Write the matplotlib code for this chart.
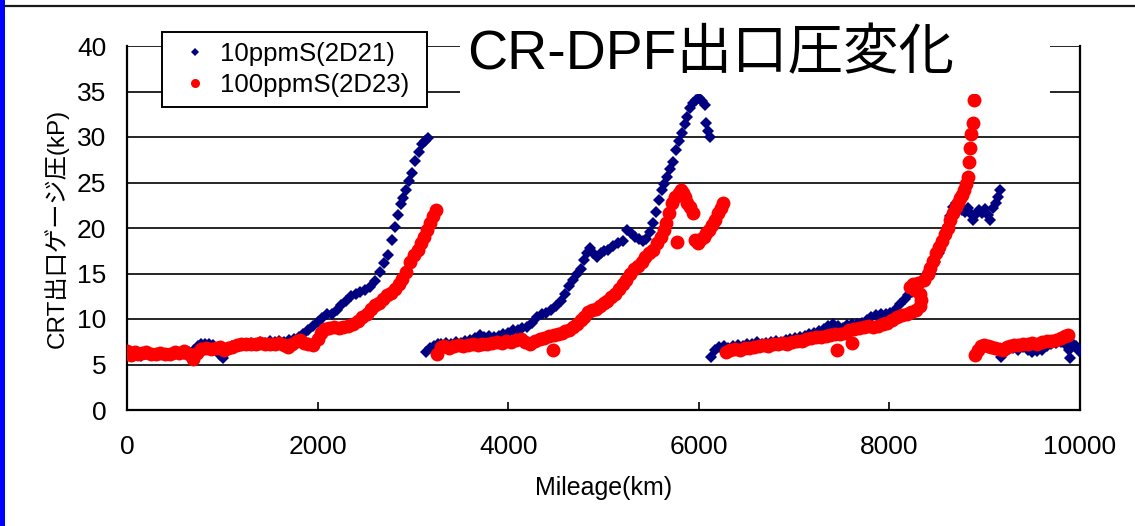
import numpy as np
import matplotlib
matplotlib.use('Agg')
import matplotlib.pyplot as plt
from matplotlib.patches import Rectangle
from matplotlib.lines import Line2D

# --- CRT outlet gauge pressure (kP) against mileage (km) ---
# 10ppmS fuel, vehicle 2D21: one list pair per regeneration cycle
blue_km_1 = [0, 50, 100, 150, 200, 250, 300, 350, 400, 450,
             500, 550, 600, 650, 700, 740, 780, 820, 860, 900,
             940, 980, 1010, 1050, 1100, 1150, 1200, 1250, 1300, 1350,
             1400, 1450, 1500, 1550, 1600, 1650, 1700, 1750, 1800, 1850,
             1900, 1950, 2000, 2050, 2100, 2150, 2200, 2250, 2300, 2350,
             2400, 2450, 2500, 2550, 2600, 2650, 2700, 2740, 2780, 2810,
             2840, 2870, 2900, 2930, 2960, 2990, 3020, 3060, 3100, 3130,
             3160]
blue_kp_1 = [6.2, 6.0, 6.1, 5.9, 6.1, 6.0, 6.0, 6.1, 6.0, 6.2,
             6.1, 6.3, 6.2, 6.4, 6.6, 7.0, 7.3, 7.2, 7.3, 7.1,
             6.6, 6.0, 5.7, 6.5, 7.0, 7.1, 7.2, 7.3, 7.4, 7.3,
             7.5, 7.4, 7.6, 7.5, 7.6, 7.5, 7.7, 7.8, 8.0, 8.4,
             8.8, 9.2, 9.7, 10.1, 10.5, 10.6, 11.0, 11.5, 12.0, 12.5,
             12.7, 13.0, 13.2, 13.5, 14.2, 15.2, 16.2, 17.0, 18.7, 20.1,
             21.4, 22.6, 23.3, 24.2, 25.2, 26.0, 27.4, 28.3, 29.2, 29.6,
             29.9]

blue_km_2 = [3140, 3180, 3220, 3260, 3300, 3350, 3400, 3450, 3500, 3550,
             3600, 3650, 3700, 3750, 3800, 3850, 3900, 3950, 4000, 4050,
             4100, 4150, 4200, 4250, 4300, 4350, 4400, 4450, 4500, 4550,
             4600, 4640, 4680, 4720, 4760, 4800, 4830, 4860, 4890, 4930,
             4970, 5010, 5050, 5100, 5150, 5200, 5250, 5290, 5330, 5370,
             5410, 5450, 5490, 5520, 5550, 5580, 5610, 5640, 5670, 5700,
             5730, 5760, 5790, 5820, 5850, 5880, 5910, 5940, 5970, 6000,
             6030, 6060, 6080, 6100, 6120]
blue_kp_2 = [6.4, 6.8, 7.0, 7.3, 7.2, 7.4, 7.3, 7.5, 7.4, 7.6,
             7.7, 7.9, 8.2, 8.0, 8.1, 8.0, 8.1, 8.3, 8.5, 8.8,
             8.8, 9.0, 9.1, 9.6, 10.2, 10.5, 10.7, 11.0, 11.4, 12.0,
             12.8, 13.6, 14.3, 15.0, 15.5, 16.5, 17.2, 17.8, 17.3, 16.8,
             17.2, 17.5, 17.6, 18.0, 18.3, 18.6, 19.8, 19.5, 19.0, 18.8,
             18.6, 18.8, 19.6, 20.5, 21.8, 23.1, 24.2, 24.8, 25.6, 26.5,
             27.2, 28.6, 29.6, 30.4, 31.4, 32.2, 33.2, 33.7, 34.1, 34.3,
             34.0, 33.5, 31.5, 30.7, 30.0]

blue_km_3 = [6130, 6170, 6210, 6260, 6310, 6360, 6410, 6460, 6510, 6560,
             6610, 6660, 6710, 6760, 6810, 6860, 6910, 6960, 7010, 7060,
             7110, 7160, 7210, 7260, 7310, 7360, 7410, 7460, 7510, 7560,
             7610, 7660, 7710, 7760, 7810, 7860, 7910, 7960, 8010, 8060,
             8110, 8160, 8200, 8240, 8280, 8320, 8360, 8400, 8440, 8480,
             8520, 8550, 8580, 8610, 8640, 8670, 8700, 8730, 8760, 8790,
             8820, 8850, 8880, 8910, 8940, 8970, 9000, 9030, 9060, 9090,
             9120, 9140, 9160]
blue_kp_3 = [5.8, 6.6, 6.9, 7.0, 6.8, 7.0, 7.1, 7.0, 7.2, 7.3,
             7.5, 7.3, 7.4, 7.5, 7.6, 7.5, 7.7, 7.8, 7.9, 8.0,
             8.1, 8.3, 8.5, 8.7, 8.9, 9.2, 9.5, 9.2, 9.0, 9.3,
             9.4, 9.5, 9.6, 9.9, 10.2, 10.4, 10.6, 10.5, 10.7, 11.0,
             11.6, 12.2, 12.6, 13.0, 13.4, 13.8, 14.3, 14.8, 15.5, 16.3,
             17.3, 18.2, 19.2, 20.2, 21.3, 22.3, 22.8, 22.5, 22.0, 21.8,
             22.2, 21.6, 20.9, 21.5, 22.0, 21.7, 22.1, 21.4, 20.9, 22.2,
             22.8, 23.4, 24.2]

blue_km_4 = [9170, 9210, 9250, 9300, 9350, 9400, 9450, 9500, 9550, 9600,
             9650, 9700, 9750, 9800, 9840, 9880, 9900, 9930, 9960, 9990]
blue_kp_4 = [5.8, 6.5, 6.7, 6.8, 6.6, 6.9, 6.6, 6.4, 6.5, 6.6,
             7.0, 7.2, 7.4, 7.5, 7.3, 6.6, 5.7, 7.2, 7.0, 6.5]

# 100ppmS fuel, vehicle 2D23
red_km_1 = [0, 40, 80, 120, 160, 200, 250, 300, 350, 400,
            450, 500, 550, 600, 650, 690, 730, 780, 830, 880,
            930, 975, 1020, 1060, 1100, 1150, 1200, 1250, 1300, 1350,
            1400, 1450, 1500, 1550, 1600, 1650, 1690, 1730, 1780, 1820,
            1860, 1900, 1950, 2000, 2040, 2080, 2120, 2170, 2220, 2270,
            2320, 2370, 2420, 2470, 2515, 2560, 2600, 2640, 2690, 2730,
            2770, 2810, 2850, 2890, 2930, 2970, 3010, 3050, 3090, 3120,
            3150, 3180, 3210, 3240]
red_kp_1 = [6.5, 6.0, 6.4, 6.2, 6.3, 6.4, 6.1, 6.2, 6.3, 6.1,
            6.2, 6.4, 6.3, 6.5, 6.2, 5.6, 6.3, 6.7, 6.8, 6.7,
            6.8, 6.9, 6.6, 6.8, 6.9, 7.1, 7.2, 7.3, 7.3, 7.2,
            7.4, 7.3, 7.2, 7.3, 7.4, 7.1, 6.9, 7.3, 7.6, 7.7,
            7.4, 7.2, 7.1, 7.8, 8.5, 8.9, 9.0, 9.1, 9.0, 9.1,
            9.2, 9.4, 9.8, 10.2, 10.6, 11.1, 11.5, 11.8, 12.2, 12.6,
            12.9, 13.3, 13.8, 14.4, 15.2, 16.3, 17.0, 17.6, 18.3, 19.0,
            19.8, 20.6, 21.3, 22.0]

red_km_2 = [3250, 3290, 3330, 3380, 3430, 3480, 3530, 3580, 3630, 3680,
            3730, 3780, 3830, 3880, 3930, 3980, 4030, 4080, 4130, 4180,
            4230, 4280, 4330, 4380, 4430, 4470, 4480, 4520, 4560, 4600,
            4640, 4680, 4720, 4760, 4800, 4840, 4880, 4920, 4960, 5000,
            5040, 5080, 5120, 5160, 5200, 5240, 5280, 5320, 5360, 5400,
            5440, 5480, 5520, 5560, 5600, 5630, 5660, 5690, 5720, 5750,
            5770, 5790, 5810, 5830, 5850, 5880, 5910, 5940, 5960, 5990,
            6020, 6050, 6080, 6110, 6140, 6170, 6200, 6230, 6255]
red_kp_2 = [6.2, 6.9, 7.0, 6.8, 7.0, 7.1, 7.0, 7.1, 7.2, 7.1,
            7.3, 7.2, 7.4, 7.5, 7.4, 7.6, 7.5, 7.7, 7.8, 7.5,
            7.3, 7.6, 7.8, 7.9, 8.1, 6.6, 8.2, 8.3, 8.5, 8.7,
            8.8, 9.1, 9.5, 9.9, 10.2, 10.8, 11.0, 11.1, 11.4, 11.8,
            12.0, 12.4, 12.8, 13.3, 13.8, 14.3, 14.9, 15.5, 15.8, 16.3,
            16.8, 17.3, 17.6, 18.3, 19.0, 19.8, 20.6, 21.6, 22.8, 23.4,
            18.5, 23.8, 24.2, 23.9, 23.4, 22.8, 22.3, 21.6, 18.7, 18.3,
            18.8, 19.0, 19.4, 19.8, 20.3, 20.9, 21.6, 22.2, 22.7]

red_km_3 = [6290, 6330, 6380, 6430, 6480, 6530, 6580, 6630, 6680, 6730,
            6780, 6830, 6880, 6930, 6980, 7030, 7080, 7130, 7180, 7230,
            7280, 7330, 7380, 7430, 7450, 7480, 7530, 7580, 7610, 7630,
            7680, 7730, 7780, 7830, 7880, 7930, 7980, 8030, 8080, 8130,
            8180, 8230, 8280, 8320, 8335, 8320, 8270, 8220, 8250, 8300,
            8360, 8400, 8430, 8460, 8490, 8520, 8550, 8580, 8610, 8640,
            8670, 8700, 8720, 8740, 8760, 8780, 8805, 8825, 8835, 8850,
            8860, 8875, 8890]
red_kp_3 = [6.4, 6.6, 6.7, 6.6, 6.8, 6.8, 6.9, 7.0, 7.1, 7.0,
            7.2, 7.3, 7.4, 7.3, 7.5, 7.6, 7.6, 7.8, 7.9, 8.0,
            8.0, 8.1, 8.2, 8.3, 6.6, 8.4, 8.5, 8.8, 7.4, 8.9,
            9.0, 9.1, 9.2, 9.1, 9.2, 9.4, 9.6, 9.9, 10.2, 10.4,
            10.6, 10.8, 11.0, 11.4, 12.1, 12.8, 13.2, 13.5, 13.9, 14.0,
            14.3, 15.0, 15.6, 16.4, 17.2, 17.9, 18.6, 19.3, 20.0, 20.9,
            21.6, 22.3, 22.8, 23.3, 23.6, 24.2, 24.8, 25.6, 27.3, 28.8,
            30.3, 31.5, 34.1]

red_km_4 = [8900, 8930, 8960, 8990, 9030, 9070, 9110, 9150, 9190, 9230,
            9270, 9310, 9350, 9400, 9450, 9500, 9550, 9600, 9650, 9700,
            9750, 9800, 9840, 9870]
red_kp_4 = [6.0, 6.6, 7.0, 7.1, 7.0, 6.9, 6.8, 6.7, 6.6, 6.9,
            7.0, 7.1, 7.1, 7.2, 7.3, 7.4, 7.3, 7.5, 7.6, 7.6,
            7.7, 7.9, 8.1, 8.2]

SERIES_LABELS = ['10ppmS(2D21)', '100ppmS(2D23)']
X_TICKS = [0, 2000, 4000, 6000, 8000, 10000]
Y_TICKS = [0, 5, 10, 15, 20, 25, 30, 35, 40]

BLUE = '#000080'
RED = '#ff0000'
W, H = 1135, 526

plt.rcParams['font.family'] = ['Liberation Sans', 'Noto Sans CJK JP']


def concat(*parts):
    return np.concatenate([np.asarray(p, dtype=float) for p in parts])


def main():
    blue_km = concat(blue_km_1, blue_km_2, blue_km_3, blue_km_4)
    blue_kp = concat(blue_kp_1, blue_kp_2, blue_kp_3, blue_kp_4)
    red_km = concat(red_km_1, red_km_2, red_km_3, red_km_4)
    red_kp = concat(red_kp_1, red_kp_2, red_kp_3, red_kp_4)

    fig = plt.figure(figsize=(W / 100, H / 100), dpi=100)
    ax = fig.add_axes([127 / W, 1 - 410 / H, (1080 - 127) / W, (410 - 46) / H])

    ax.plot(blue_km, blue_kp, linestyle='none', marker='D', markersize=6.2,
            markerfacecolor=BLUE, markeredgewidth=0, zorder=3)
    ax.plot(red_km, red_kp, linestyle='none', marker='o', markersize=10,
            markerfacecolor=RED, markeredgewidth=0, zorder=4)

    ax.set_xlim(0, 10000)
    ax.set_ylim(0, 40)
    ax.set_xticks(X_TICKS)
    ax.set_yticks(Y_TICKS)
    ax.yaxis.grid(True, color='black', linewidth=1.2)
    ax.set_axisbelow(True)

    ax.spines['top'].set_visible(False)
    for side in ['left', 'right', 'bottom']:
        ax.spines[side].set_linewidth(1.6)
        ax.spines[side].set_color('black')

    ax.tick_params(axis='x', direction='in', length=6, width=1.2,
                   labelsize=19, pad=18)
    ax.tick_params(axis='y', direction='in', length=0, labelsize=19, pad=15)

    ax.set_xlabel('Mileage(km)', fontsize=18, labelpad=12)
    ax.set_ylabel('CRT出口ゲージ圧(kP)', fontsize=17.5, labelpad=6)

    # legend box sits over the top gridlines
    handles = [
        Line2D([], [], linestyle='none', marker='D', markersize=3.8,
               markerfacecolor=BLUE, markeredgewidth=0),
        Line2D([], [], linestyle='none', marker='o', markersize=6.5,
               markerfacecolor=RED, markeredgewidth=0),
    ]
    leg = ax.legend(handles, SERIES_LABELS, loc='upper left',
                    bbox_to_anchor=(162 / W, 1 - 106 / H, 265 / W, 74 / H),
                    bbox_transform=fig.transFigure, mode='expand',
                    borderaxespad=0, fontsize=18.5, frameon=True,
                    fancybox=False, framealpha=1, edgecolor='black',
                    handlelength=1.8, handletextpad=0.05, borderpad=0.4,
                    labelspacing=0.25)
    leg.get_frame().set_linewidth(1.4)
    leg.set_zorder(6)

    # white title panel over the top of the plot area
    fig.add_artist(Rectangle((460 / W, 1 - 94 / H), 590 / W, 72 / H,
                             transform=fig.transFigure, facecolor='white',
                             edgecolor='none', zorder=4))
    fig.text(711 / W, 1 - 55 / H, 'CR-DPF出口圧変化', fontsize=40,
             ha='center', va='center', zorder=5)

    # slide frame: blue bar on the left, rule along the top
    fig.add_artist(Rectangle((0, 0), 5 / W, 1, transform=fig.transFigure,
                             facecolor='#0000ff', edgecolor='none', zorder=7))
    fig.add_artist(Line2D([5 / W, 1], [1 - 6 / H, 1 - 6 / H],
                          transform=fig.transFigure, color='#1a1a1a',
                          linewidth=1.6, zorder=7))

    fig.savefig('out.png', dpi=100)


if __name__ == '__main__':
    main()
